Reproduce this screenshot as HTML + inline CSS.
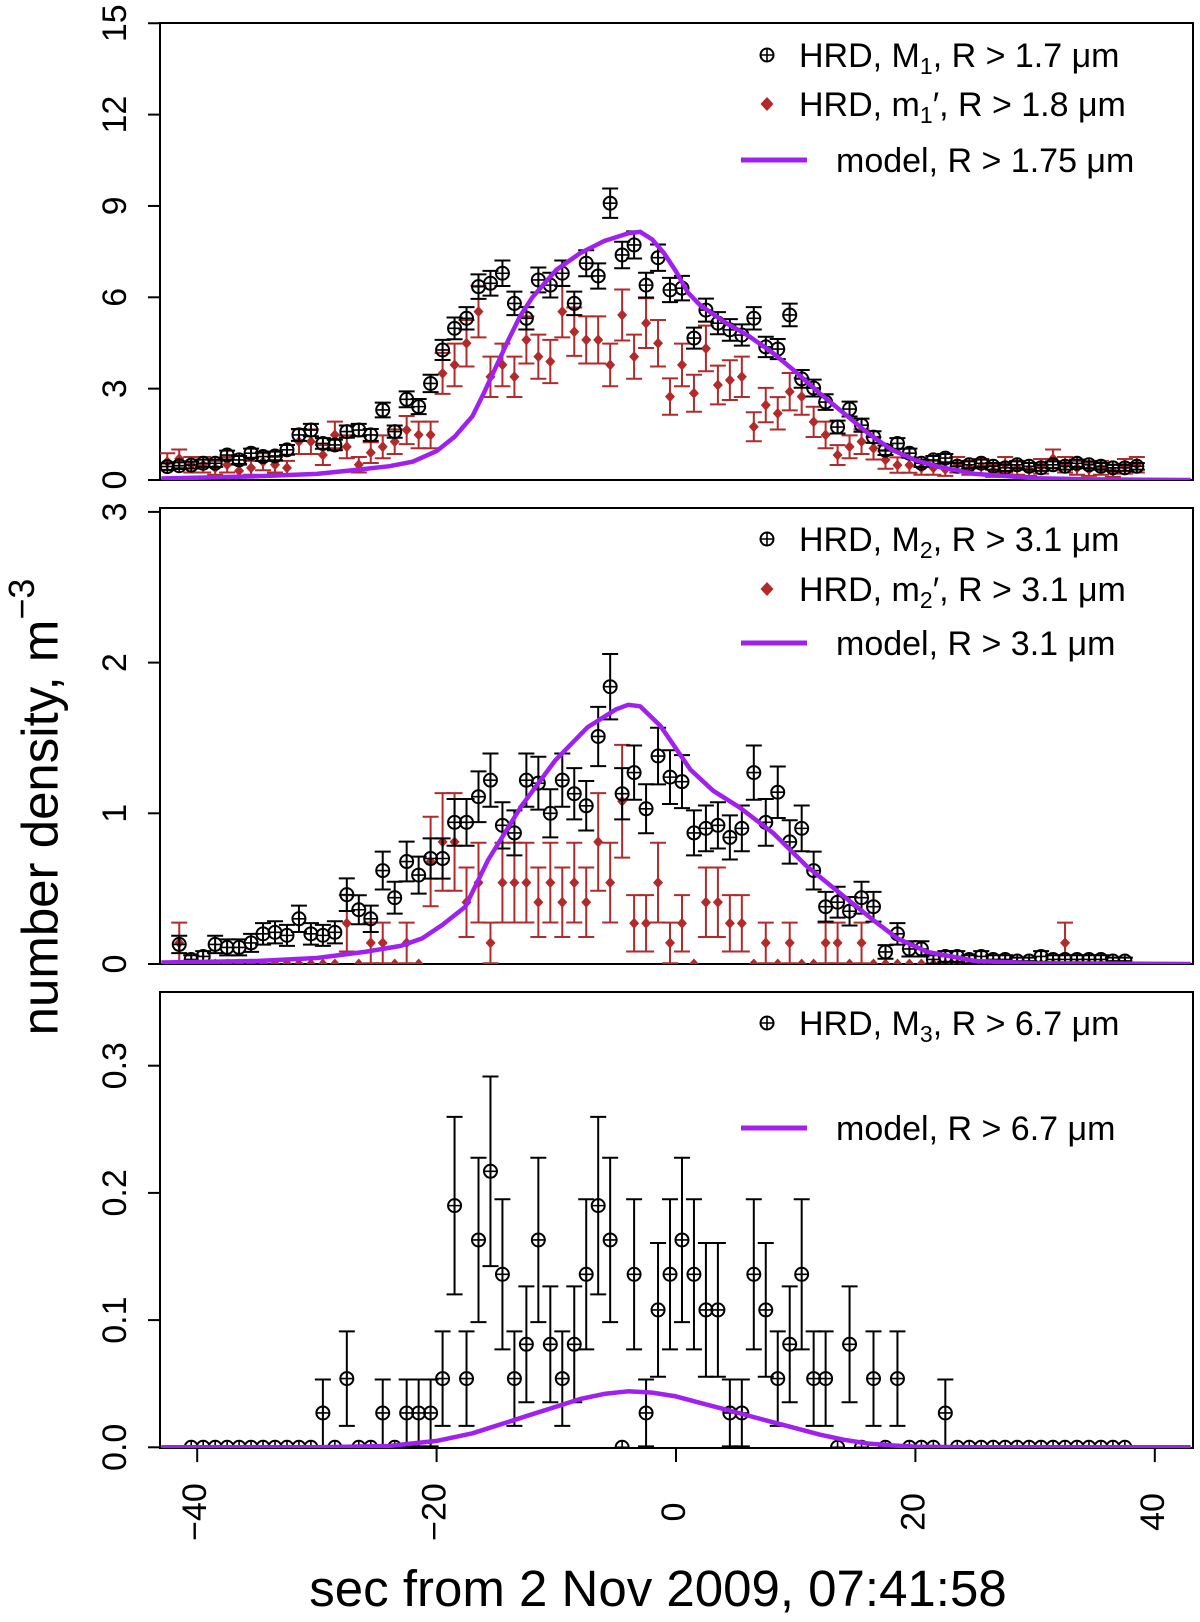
<!DOCTYPE html>
<html><head><meta charset="utf-8"><style>
html,body{margin:0;padding:0;background:#fff;}
svg{display:block;font-family:"Liberation Sans",Arial,sans-serif;}
</style></head><body>
<svg id="chart" width="1200" height="1622" viewBox="0 0 1200 1622" xmlns="http://www.w3.org/2000/svg">
<defs>
<clipPath id="c1"><rect x="160" y="23" width="1033" height="457"/></clipPath>
<clipPath id="c2"><rect x="160" y="508" width="1033" height="456"/></clipPath>
<clipPath id="c3"><rect x="160" y="992" width="1033" height="456"/></clipPath>
</defs>
<g id="layer"></g>
<text x="44" y="807" font-size="51" text-anchor="middle" transform="rotate(-90 44 807)" dominant-baseline="middle">number density, m<tspan dy="-20" font-size="36">−3</tspan></text>
<text x="658" y="1606" font-size="51" text-anchor="middle">sec from 2 Nov 2009, 07:41:58</text>
<g font-size="34">
<text x="799" y="67">HRD, M<tspan font-size="23" dy="7">1</tspan><tspan dy="-7">, R &gt; 1.7 μm</tspan></text>
<text x="799" y="116">HRD, m<tspan font-size="23" dy="7">1</tspan><tspan dy="-7">′, R &gt; 1.8 μm</tspan></text>
<line x1="741" y1="160" x2="807" y2="160" stroke="#a020f0" stroke-width="5"/>
<text x="836" y="172">model, R &gt; 1.75 μm</text>
</g>
<g font-size="34">
<text x="799" y="551">HRD, M<tspan font-size="23" dy="7">2</tspan><tspan dy="-7">, R &gt; 3.1 μm</tspan></text>
<text x="799" y="601">HRD, m<tspan font-size="23" dy="7">2</tspan><tspan dy="-7">′, R &gt; 3.1 μm</tspan></text>
<line x1="741" y1="643" x2="807" y2="643" stroke="#a020f0" stroke-width="5"/>
<text x="836" y="655">model, R &gt; 3.1 μm</text>
</g>
<g font-size="34">
<text x="799" y="1035">HRD, M<tspan font-size="23" dy="7">3</tspan><tspan dy="-7">, R &gt; 6.7 μm</tspan></text>
<line x1="741" y1="1128" x2="807" y2="1128" stroke="#a020f0" stroke-width="5"/>
<text x="836" y="1140">model, R &gt; 6.7 μm</text>
</g>
</svg>
<script>
const p1Times = [-42.5,-41.5,-40.5,-39.5,-38.5,-37.5,-36.5,-35.5,-34.5,-33.5,-32.5,-31.5,-30.5,-29.5,-28.5,-27.5,-26.5,-25.5,-24.5,-23.5,-22.5,-21.5,-20.5,-19.5,-18.5,-17.5,-16.5,-15.5,-14.5,-13.5,-12.5,-11.5,-10.5,-9.5,-8.5,-7.5,-6.5,-5.5,-4.5,-3.5,-2.5,-1.5,-0.5,0.5,1.5,2.5,3.5,4.5,5.5,6.5,7.5,8.5,9.5,10.5,11.5,12.5,13.5,14.5,15.5,16.5,17.5,18.5,19.5,20.5,21.5,22.5,23.5,24.5,25.5,26.5,27.5,28.5,29.5,30.5,31.5,32.5,33.5,34.5,35.5,36.5,37.5,38.5];
const p1Black = [0.44,0.47,0.49,0.55,0.55,0.82,0.66,0.88,0.77,0.79,0.99,1.48,1.64,1.2,1.15,1.59,1.64,1.48,2.3,1.59,2.65,2.41,3.17,4.27,4.98,5.31,6.35,6.46,6.79,5.8,5.31,6.57,6.4,6.79,5.8,7.12,6.7,9.09,7.39,7.72,6.4,7.3,6.24,6.3,4.66,5.58,5.15,4.93,4.76,5.31,4.37,4.3,5.42,3.32,3.02,2.56,1.74,2.33,1.8,1.41,0.98,1.2,0.88,0.55,0.66,0.72,0.45,0.5,0.55,0.45,0.4,0.5,0.45,0.4,0.5,0.45,0.55,0.5,0.45,0.4,0.4,0.45];
const p1Red = [0.6,0.7,0.5,0.5,0.4,0.5,0.3,0.4,0.6,0.5,0.4,1.26,1.26,0.82,1.48,1.09,0.5,0.9,1.09,1.26,1.64,1.48,1.48,3.5,3.78,4.49,5.53,3.39,3.78,3.39,4.6,4.05,3.89,5.53,4.87,4.6,4.6,3.78,5.42,4.05,5.15,4.49,2.74,3.78,2.85,4.32,3.12,3.28,3.39,1.75,2.46,2.19,2.9,2.74,1.91,1.48,0.82,1.09,1.26,1.04,0.66,0.49,0.49,0.4,0.4,0.35,0.5,0.4,0.45,0.3,0.5,0.4,0.35,0.45,0.7,0.5,0.4,0.35,0.4,0.3,0.45,0.5];
const p2Times = [-41.5,-40.5,-39.5,-38.5,-37.5,-36.5,-35.5,-34.5,-33.5,-32.5,-31.5,-30.5,-29.5,-28.5,-27.5,-26.5,-25.5,-24.5,-23.5,-22.5,-21.5,-20.5,-19.5,-18.5,-17.5,-16.5,-15.5,-14.5,-13.5,-12.5,-11.5,-10.5,-9.5,-8.5,-7.5,-6.5,-5.5,-4.5,-3.5,-2.5,-1.5,-0.5,0.5,1.5,2.5,3.5,4.5,5.5,6.5,7.5,8.5,9.5,10.5,11.5,12.5,13.5,14.5,15.5,16.5,17.5,18.5,19.5,20.5,21.5,22.5,23.5,24.5,25.5,26.5,27.5,28.5,29.5,30.5,31.5,32.5,33.5,34.5,35.5,36.5,37.5];
const p2Black = [0.13,0.03,0.05,0.13,0.11,0.11,0.14,0.2,0.21,0.19,0.3,0.2,0.19,0.21,0.46,0.36,0.3,0.62,0.44,0.68,0.59,0.7,0.7,0.94,0.94,1.11,1.22,0.92,0.87,1.22,1.2,1.0,1.22,1.13,1.05,1.51,1.84,1.13,1.27,1.03,1.38,1.24,1.21,0.87,0.9,0.92,0.84,0.9,1.27,0.94,1.14,0.81,0.9,0.62,0.38,0.41,0.35,0.44,0.38,0.08,0.2,0.1,0.1,0.03,0.05,0.05,0.03,0.05,0.03,0.03,0.02,0.02,0.05,0.03,0.03,0.03,0.03,0.03,0.02,0.02];
const p2Red = [0.14,0,0,0,0,0,0,0,0,0,0,0,0,0,0.27,0,0.14,0.14,0,0.14,0,0.68,0.81,0.81,0.41,0.54,0.14,0.54,0.54,0.54,0.41,0.54,0.41,0.54,0.41,0.81,0.54,1.08,0.27,0.27,0.54,0.14,0.27,0,0.41,0.41,0.27,0.27,0,0.14,0,0.14,0,0,0.14,0.14,0,0.14,0,0,0,0,0,0,0,0,0,0,0,0,0,0,0,0,0.14,0,0,0,0,0];
const p3Times = [-40.5,-39.5,-38.5,-37.5,-36.5,-35.5,-34.5,-33.5,-32.5,-31.5,-30.5,-29.5,-28.5,-27.5,-26.5,-25.5,-24.5,-23.5,-22.5,-21.5,-20.5,-19.5,-18.5,-17.5,-16.5,-15.5,-14.5,-13.5,-12.5,-11.5,-10.5,-9.5,-8.5,-7.5,-6.5,-5.5,-4.5,-3.5,-2.5,-1.5,-0.5,0.5,1.5,2.5,3.5,4.5,5.5,6.5,7.5,8.5,9.5,10.5,11.5,12.5,13.5,14.5,15.5,16.5,17.5,18.5,19.5,20.5,21.5,22.5,23.5,24.5,25.5,26.5,27.5,28.5,29.5,30.5,31.5,32.5,33.5,34.5,35.5,36.5,37.5];
const p3Black = [0,0,0,0,0,0,0,0,0,0,0,0.027,0,0.054,0,0,0.027,0,0.027,0.027,0.027,0.054,0.19,0.054,0.163,0.217,0.136,0.054,0.081,0.163,0.081,0.054,0.081,0.136,0.19,0.163,0,0.136,0.027,0.108,0.136,0.163,0.136,0.108,0.108,0.027,0.027,0.136,0.108,0.054,0.081,0.136,0.054,0.054,0,0.081,0,0.054,0,0.054,0,0,0,0.027,0,0,0,0,0,0,0,0,0,0,0,0,0,0,0];
const m1Times = [-43,-35,-30,-27,-24,-22,-20,-18.5,-17,-16,-14,-13,-12,-10,-8,-6,-4,-3,-2,-1,0,1,2,4,6,8,10,12,14,16,18,20,22,25,30,35,43];
const m1Values = [0.05,0.12,0.2,0.32,0.45,0.6,0.95,1.42,2.1,2.9,4.6,5.4,6.0,6.9,7.45,7.85,8.1,8.15,7.9,7.45,6.85,6.15,5.75,5.2,4.75,4.2,3.55,2.85,2.2,1.55,1.0,0.65,0.43,0.2,0.06,0.02,0];
const m2Times = [-43,-35,-30,-26,-23,-21.2,-19.5,-17.6,-15.7,-12.9,-10.1,-7.4,-5,-4,-3,-1.3,1.2,3.1,5.3,8.1,10.9,13.7,16.5,18.5,21,25,30,43];
const m2Values = [0.01,0.02,0.04,0.08,0.12,0.17,0.26,0.38,0.69,1.05,1.35,1.57,1.69,1.72,1.71,1.58,1.29,1.15,1.04,0.87,0.65,0.47,0.29,0.17,0.08,0.02,0.005,0];
const m3Times = [-43,-30,-24,-20,-17,-15,-12,-10,-8,-6,-4,-2,0,2,4,6,8,10,12,14,16,18,20,25,43];
const m3Values = [0,0,0.001,0.005,0.011,0.017,0.026,0.032,0.038,0.042,0.044,0.043,0.04,0.035,0.03,0.025,0.02,0.015,0.01,0.006,0.003,0.0015,0.0005,0,0];
const xTicks = [-40,-20,0,20,40];
const xTickLabels = ["−40","−20","0","20","40"];
const y1Ticks = [0,3,6,9,12,15];
const y2Ticks = [0,1,2,3];
const y3Ticks = [0,0.1,0.2,0.3];
const y3TickLabels = ["0.0","0.1","0.2","0.3"];

const NS = "http://www.w3.org/2000/svg";
const layer = document.getElementById('layer');
const xs = t => 676 + 11.97 * t;
const panels = [
  {top:23,bottom:480,y:v=>480-30.45*v,clip:'c1'},
  {top:508,bottom:964,y:v=>964-150.7*v,clip:'c2'},
  {top:992,bottom:1448,y:v=>1447.3-1272*v,clip:'c3'}
];
function mk(tag, attrs, parent){
  const e = document.createElementNS(NS, tag);
  for (const k in attrs) e.setAttribute(k, attrs[k]);
  (parent||layer).appendChild(e);
  return e;
}
function frame(p, idx, ticks, labels){
  const g = mk('g', {});
  
  
  const r = mk('rect', {x:160,y:p.top,width:1033,height:p.bottom-p.top,fill:'none',stroke:'#000','stroke-width':2}, g);
  
  
  ticks.forEach((v,i)=>{
    const yy = p.y(v);
    const l = mk('line', {x1:148,x2:160,y1:yy,y2:yy,stroke:'#000','stroke-width':2}, g);
    
    
    const t = mk('text', {x:117,y:yy,'font-size':34,'text-anchor':'middle','dominant-baseline':'middle',transform:`rotate(-90 117 ${yy})`}, g);
    t.textContent = labels ? labels[i] : String(v);
    
    
  });
  return g;
}
function errBar(g, x, y1, y2, color){
  const l = mk('path', {d:`M${x},${y1}V${y2}M${x-8},${y1}H${x+8}M${x-8},${y2}H${x+8}`,stroke:color,'stroke-width':2,fill:'none'}, g);
  
  
}
function blackSeries(p, times, vals, name){
  const g = mk('g', {'clip-path':`url(#${p.clip})`});
  
  
  times.forEach((t,i)=>{
    const v = vals[i], x = xs(t), y = p.y(v);
    if (v > 0){ const e = 0.16*Math.sqrt(v); errBar(g, x, p.y(v+e), p.y(v-e), '#000'); }
    const m = mk('path', {d:`M${x-6.5},${y}H${x+6.5}M${x},${y-6.5}V${y+6.5}`,stroke:'#000','stroke-width':1.6,fill:'none'}, g);
    
    
    const c = mk('circle', {cx:x,cy:y,r:6.5,fill:'none',stroke:'#000','stroke-width':2}, g);
    
    
  });
}
function redSeries(p, times, vals, name){
  const g = mk('g', {'clip-path':`url(#${p.clip})`});
  
  
  times.forEach((t,i)=>{
    const v = vals[i], x = xs(t), y = p.y(v);
    if (v > 0){ const e = 0.36*Math.sqrt(v); errBar(g, x, p.y(v+e), p.y(Math.max(0,v-e)), '#b22a2a'); }
    const d = mk('path', {d:`M${x},${y-5.5}L${x+5},${y}L${x},${y+5.5}L${x-5},${y}Z`,fill:'#b22a2a'}, g);
    
    
  });
}
function model(p, times, vals, name){
  const d = times.map((t,i)=>(i?'L':'M')+xs(t).toFixed(1)+','+p.y(vals[i]).toFixed(1)).join('');
  const l = mk('path', {d, fill:'none', stroke:'#a020f0','stroke-width':4.5,'stroke-linejoin':'round','clip-path':`url(#${p.clip})`});
  
  
}
frame(panels[0], 0, y1Ticks);
frame(panels[1], 1, y2Ticks);
frame(panels[2], 2, y3Ticks, y3TickLabels);
redSeries(panels[0], p1Times, p1Red, 'series-m1-prime');
blackSeries(panels[0], p1Times, p1Black, 'series-m1');
model(panels[0], m1Times, m1Values, 'model-line-1');
redSeries(panels[1], p2Times, p2Red, 'series-m2-prime');
blackSeries(panels[1], p2Times, p2Black, 'series-m2');
model(panels[1], m2Times, m2Values, 'model-line-2');
blackSeries(panels[2], p3Times, p3Black, 'series-m3');
model(panels[2], m3Times, m3Values, 'model-line-3');
xTicks.forEach((t,i)=>{
  const x = xs(t);
  const l = mk('line', {x1:x,x2:x,y1:1448,y2:1462,stroke:'#000','stroke-width':2});
  
  
  const tx = mk('text', {x:x,y:1512,'font-size':34,'text-anchor':'middle','dominant-baseline':'middle',transform:`rotate(-90 ${x} 1512)`});
  tx.textContent = xTickLabels[i];
  
  
});
[[767,55],[767,539],[767,1023]].forEach(([x,y])=>{
  const c = mk('circle', {cx:x,cy:y,r:6.5,fill:'none',stroke:'#000','stroke-width':2});
  
  
  const m = mk('path', {d:`M${x-6.5},${y}H${x+6.5}M${x},${y-6.5}V${y+6.5}`,stroke:'#000','stroke-width':1.6});
  
  
});
[[767,104],[767,589]].forEach(([x,y])=>{
  const d = mk('path', {d:`M${x},${y-7}L${x+6.5},${y}L${x},${y+7}L${x-6.5},${y}Z`,fill:'#b22a2a'});
  
  
});
</script>
</body></html>
